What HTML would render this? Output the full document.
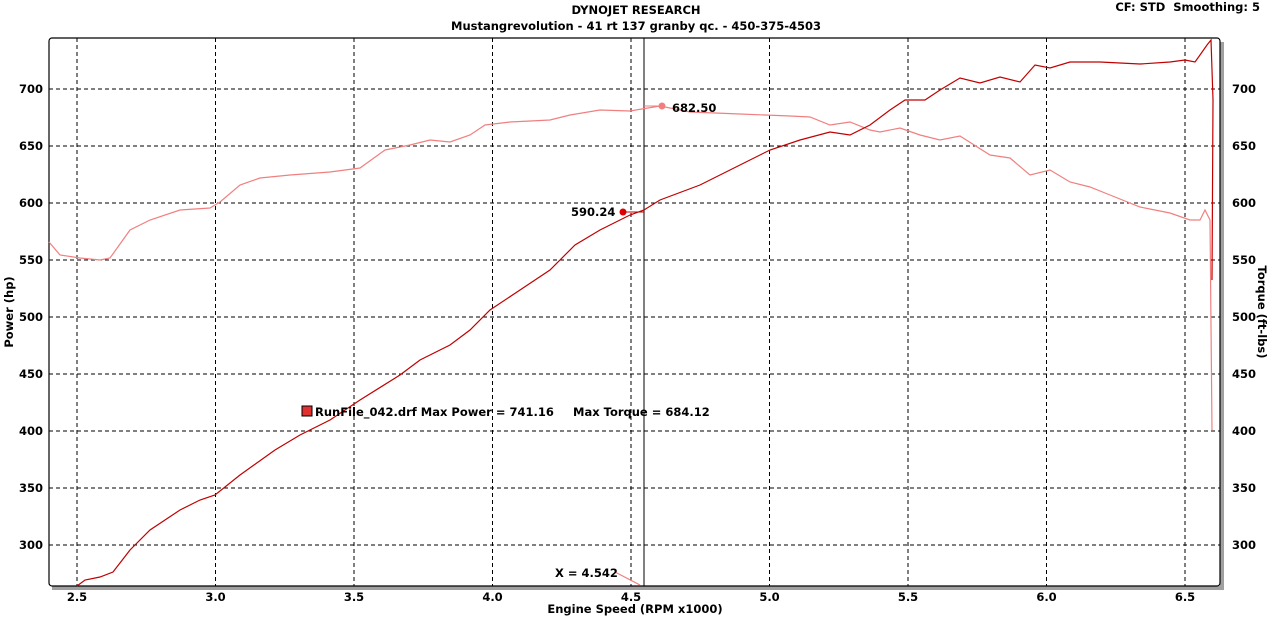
<!DOCTYPE html>
<html><head><style>
body{margin:0;background:#fff;}
svg text{font-family:"DejaVu Sans","Liberation Sans",sans-serif;font-weight:bold;font-size:11.5px;fill:#000;white-space:pre;}
</style></head><body>
<svg width="1271" height="621" xmlns="http://www.w3.org/2000/svg">
<text x="636" y="14" text-anchor="middle">DYNOJET RESEARCH</text>
<text x="636" y="30" text-anchor="middle">Mustangrevolution - 41 rt 137 granby qc. - 450-375-4503</text>
<text x="1260" y="11" text-anchor="end">CF: STD  Smoothing: 5</text>
<rect x="52" y="586" width="1172" height="4" fill="#a0a0a0"/>
<rect x="1220" y="42" width="4" height="548" fill="#a0a0a0"/>
<rect x="49" y="38" width="1171" height="548" fill="#fff" stroke="#000" stroke-width="1.2" rx="3"/>
<g stroke="#000" stroke-dasharray="4,3" stroke-width="1">
<line x1="77" y1="38" x2="77" y2="586"/><line x1="215.5" y1="38" x2="215.5" y2="586"/>
<line x1="354" y1="38" x2="354" y2="586"/><line x1="492.5" y1="38" x2="492.5" y2="586"/>
<line x1="631" y1="38" x2="631" y2="586"/><line x1="769.5" y1="38" x2="769.5" y2="586"/>
<line x1="908" y1="38" x2="908" y2="586"/><line x1="1046.5" y1="38" x2="1046.5" y2="586"/>
<line x1="1185" y1="38" x2="1185" y2="586"/>
<line x1="49" y1="89" x2="1220" y2="89"/><line x1="49" y1="146" x2="1220" y2="146"/>
<line x1="49" y1="203" x2="1220" y2="203"/><line x1="49" y1="260" x2="1220" y2="260"/>
<line x1="49" y1="317" x2="1220" y2="317"/><line x1="49" y1="374" x2="1220" y2="374"/>
<line x1="49" y1="431" x2="1220" y2="431"/><line x1="49" y1="488" x2="1220" y2="488"/>
<line x1="49" y1="545" x2="1220" y2="545"/>
</g>
<g id="ticks" stroke="#000" stroke-width="1"></g>
<g>
<text x="43" y="93" text-anchor="end">700</text><text x="43" y="150" text-anchor="end">650</text>
<text x="43" y="207" text-anchor="end">600</text><text x="43" y="264" text-anchor="end">550</text>
<text x="43" y="321" text-anchor="end">500</text><text x="43" y="378" text-anchor="end">450</text>
<text x="43" y="435" text-anchor="end">400</text><text x="43" y="492" text-anchor="end">350</text>
<text x="43" y="549" text-anchor="end">300</text>
<text x="1232" y="93">700</text><text x="1232" y="150">650</text><text x="1232" y="207">600</text>
<text x="1232" y="264">550</text><text x="1232" y="321">500</text><text x="1232" y="378">450</text>
<text x="1232" y="435">400</text><text x="1232" y="492">350</text><text x="1232" y="549">300</text>
<text x="77" y="601" text-anchor="middle">2.5</text><text x="215.5" y="601" text-anchor="middle">3.0</text>
<text x="354" y="601" text-anchor="middle">3.5</text><text x="492.5" y="601" text-anchor="middle">4.0</text>
<text x="631" y="601" text-anchor="middle">4.5</text><text x="769.5" y="601" text-anchor="middle">5.0</text>
<text x="908" y="601" text-anchor="middle">5.5</text><text x="1046.5" y="601" text-anchor="middle">6.0</text>
<text x="1185" y="601" text-anchor="middle">6.5</text>
</g>
<text x="635" y="613" text-anchor="middle">Engine Speed (RPM x1000)</text>
<text transform="translate(13,312) rotate(-90)" text-anchor="middle">Power (hp)</text>
<text transform="translate(1258,312) rotate(90)" text-anchor="middle">Torque (ft-lbs)</text>
<line x1="644" y1="38" x2="644" y2="586" stroke="#000" stroke-width="1"/>
<polyline fill="none" stroke="#f08080" stroke-width="1.2" points="49,242 60,255 80,258 100,260 110,258 130,230 150,220 180,210 210,208 220,202 240,185 260,178 290,175 330,172 360,168 385,150 410,145 430,140 450,142 470,135 485,125 510,122 550,120 570,115 600,110 630,111 660,106 690,112 740,114 790,116 810,117 830,125 850,122 870,130 880,132 900,128 920,135 940,140 960,136 990,155 1010,158 1030,175 1050,170 1070,182 1090,187 1110,195 1140,207 1170,213 1190,220 1200,220 1205,210 1210,220 1212,430"/>
<polyline fill="none" stroke="#c00000" stroke-width="1.2" points="77,586 85,580 100,577 113,572 130,550 150,530 180,510 200,500 215,495 240,475 275,450 300,435 330,420 360,400 400,375 420,360 450,345 470,330 490,310 520,290 550,270 575,245 600,230 630,215 644,210 660,200 700,185 740,165 770,150 800,140 830,132 850,135 870,125 890,110 905,100 925,100 940,90 960,78 980,83 1000,77 1020,82 1035,65 1050,68 1070,62 1100,62 1140,64 1170,62 1185,60 1195,62 1200,55 1207,45 1211,40 1213,100 1212,280"/>
<line x1="615" y1="572" x2="640" y2="585" stroke="#f08080" stroke-width="1.2"/>
<circle cx="662" cy="106" r="3.5" fill="#f08080"/><line x1="644" y1="106" x2="662" y2="106" stroke="#f08080"/>
<text x="672" y="112">682.50</text>
<circle cx="623" cy="212" r="3.5" fill="#e00000"/><line x1="623" y1="212" x2="644" y2="212" stroke="#c00000"/>
<text x="571" y="216">590.24</text>
<text x="555" y="577">X = 4.542</text>
<rect x="302" y="406" width="10" height="10" fill="#e03030" stroke="#000"/>
<text x="315" y="416">RunFile_042.drf Max Power = 741.16</text>
<text x="573" y="416">Max Torque = 684.12</text>
<script>
var g=document.getElementById('ticks'),s='';
for(var v=270;v<=740;v+=10){var y=545-(v-300)*1.14;s+='<line x1="45" y1="'+y+'" x2="49" y2="'+y+'"/><line x1="1224" y1="'+y+'" x2="1228" y2="'+y+'"/>';}
for(var r=2.4;r<=6.65;r+=0.1){var x=77+(r-2.5)*277;if(x>49&&x<1220)s+='<line x1="'+x+'" y1="586" x2="'+x+'" y2="590"/>';}
g.innerHTML=s;
</script>
</svg>
</body></html>
